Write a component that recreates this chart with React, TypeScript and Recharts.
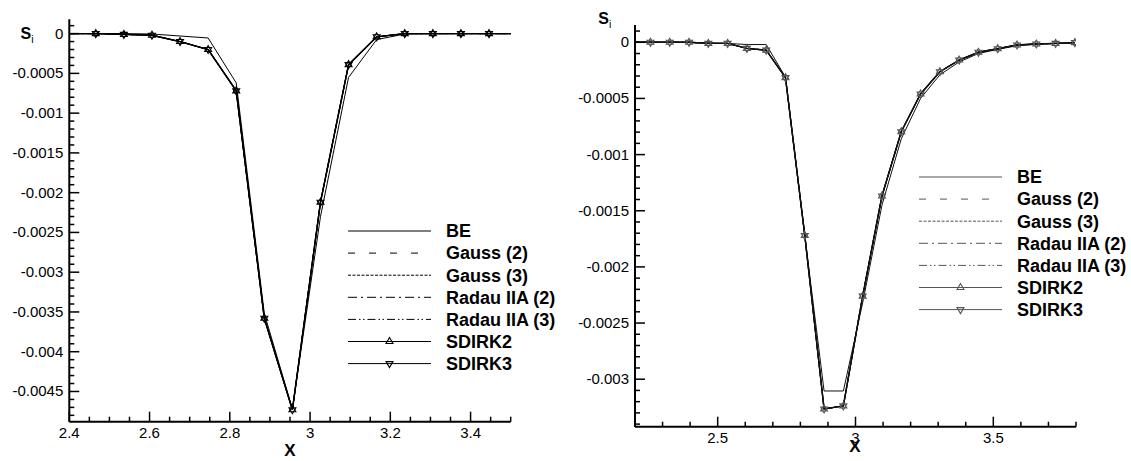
import React from "react";
import { LineChart, Line, XAxis, YAxis, Legend } from "recharts";

const FONT = '"Liberation Sans", Arial, Helvetica, sans-serif';

// ---- left panel ----
const leftX = [2.396, 2.466, 2.536, 2.606, 2.676, 2.746, 2.816, 2.886, 2.956, 3.026, 3.096, 3.166, 3.236, 3.306, 3.376, 3.446, 3.516];
const leftBE = [0, 0, 0, -0.000005, -0.00003, -0.000055, -0.00062, -0.00352, -0.00472, -0.0023, -0.00055, -0.000075, -0.000005, 0, 0, 0, 0];
// Gauss, Radau IIA and SDIRK curves lie on top of each other
const leftHigh = [0, 0, -0.00001, -0.00002, -0.0001, -0.0002, -0.00072, -0.00358, -0.00473, -0.00212, -0.00039, -0.00004, 0, 0, 0, 0, 0];

// ---- right panel ----
const rightX = [2.186, 2.256, 2.326, 2.396, 2.466, 2.536, 2.606, 2.676, 2.746, 2.816, 2.886, 2.956, 3.026, 3.096, 3.166, 3.236, 3.306, 3.376, 3.446, 3.516, 3.586, 3.656, 3.726, 3.796];
const rightBE = [0, 0, 0, 0, -0.000005, -0.00001, -0.00002, -0.00002, -0.00031, -0.00172, -0.003105, -0.003105, -0.00232, -0.00145, -0.00086, -0.0005, -0.00029, -0.000175, -0.0001, -0.000063, -0.00003, -0.000018, -0.00001, -0.000004];
const rightHigh = [0, 0, 0, 0, -0.00001, -0.00001, -0.000054, -0.00007, -0.000315, -0.00172, -0.003265, -0.003238, -0.00226, -0.001369, -0.000796, -0.00046, -0.000262, -0.000158, -0.000089, -0.000057, -0.000024, -0.000015, -0.00001, -0.000003];

// ---- axes ----
const leftXMajor = [2.4, 2.6, 2.8, 3, 3.2, 3.4];
const leftYMajor = [0, -0.0005, -0.001, -0.0015, -0.002, -0.0025, -0.003, -0.0035, -0.004, -0.0045];
const rightXMajor = [2.5, 3, 3.5];
const rightYMajor = [0, -0.0005, -0.001, -0.0015, -0.002, -0.0025, -0.003];

const steps = (a: number, b: number, s: number) =>
  Array.from({ length: Math.round((b - a) / s) + 1 }, (_, i) => +(a + i * s).toFixed(6));

const series = [
  { key: "be", name: "BE", dash: undefined as string | undefined, width: 1, marker: "" },
  { key: "g2", name: "Gauss (2)", dash: "7 14", width: 1, marker: "" },
  { key: "g3", name: "Gauss (3)", dash: "3 1.5", width: 1, marker: "" },
  { key: "r2", name: "Radau IIA (2)", dash: "9 4 2 4", width: 1, marker: "" },
  { key: "r3", name: "Radau IIA (3)", dash: "8 3 1.5 2.5 1.5 3", width: 1, marker: "" },
  { key: "s2", name: "SDIRK2", dash: undefined, width: 1.4, marker: "up" },
  { key: "s3", name: "SDIRK3", dash: undefined, width: 1.4, marker: "down" },
];

const buildRows = (xs: number[], be: number[], high: number[]) =>
  xs.map((x, i) => ({ x, be: be[i], g2: high[i], g3: high[i], r2: high[i], r3: high[i], s2: high[i], s3: high[i] }));

const near = (list: number[], v: number) => list.some((m) => Math.abs(m - v) < 1e-9);
const fmt = (v: number) => String(Number(v.toFixed(4)));

const Tri = ({ cx, cy, dir, color }: any) => {
  const s = 4;
  const h = s * 0.87;
  const pts =
    dir === "up"
      ? `${cx},${cy - s} ${cx - h},${cy + s / 2} ${cx + h},${cy + s / 2}`
      : `${cx},${cy + s} ${cx - h},${cy - s / 2} ${cx + h},${cy - s / 2}`;
  return <polygon points={pts} fill="none" stroke={color} strokeWidth={1.1} />;
};

function Panel(props: any) {
  const { rows, xDomain, yDomain, xMajor, yMajor, xMinor, yMinor, width, margin, lineColor, markColor, legendLeft, legendTop, yLabel, xLabel } = props;

  const YTick = (p: any) => {
    const { x, y, payload } = p;
    const major = near(yMajor, payload.value);
    const ax = x + 6;
    return (
      <g>
        <line x1={ax} x2={ax + (major ? 10 : 5)} y1={y} y2={y} stroke="#000" strokeWidth={1.5} />
        {major && (
          <text x={x} y={y + 5} textAnchor="end" fontSize={15} fontFamily={FONT} fill="#000">
            {fmt(payload.value)}
          </text>
        )}
      </g>
    );
  };

  const XTick = (p: any) => {
    const { x, y, payload } = p;
    const major = near(xMajor, payload.value);
    const ay = y - 5;
    return (
      <g>
        <line x1={x} x2={x} y1={ay} y2={ay - (major ? 10 : 5)} stroke="#000" strokeWidth={1.5} />
        {major && (
          <text x={x} y={ay + 16.6} textAnchor="middle" fontSize={15} fontFamily={FONT} fill="#000">
            {String(Number(payload.value.toFixed(2)))}
          </text>
        )}
      </g>
    );
  };

  const renderLegend = (lp: any) => {
    const items = (lp.payload || []) as any[];
    return (
      <svg width={230} height={160} style={{ display: "block" }}>
        {items.map((it, i) => {
          const cfg = series.find((s) => s.key === it.dataKey) || series[i];
          const yy = 11 + i * 22.1;
          return (
            <g key={cfg.key}>
              <line x1={0} x2={83} y1={yy} y2={yy} stroke={markColor} strokeWidth={1} strokeDasharray={cfg.dash} />
              {cfg.marker && <Tri cx={41.5} cy={yy} dir={cfg.marker} color={markColor} />}
              <text x={98} y={yy + 6.3} fontSize={18} fontWeight="bold" fontFamily={FONT} fill="#000">
                {cfg.name}
              </text>
            </g>
          );
        })}
      </svg>
    );
  };

  return (
    <LineChart width={width} height={461} data={rows} margin={margin}>
      <XAxis
        dataKey="x"
        type="number"
        domain={xDomain}
        allowDataOverflow
        ticks={xMinor}
        interval={0}
        height={30}
        tickSize={0}
        tickMargin={5}
        tickLine={false}
        axisLine={{ stroke: "#000", strokeWidth: 2 }}
        tick={XTick}
        label={{
          content: () => (
            <text x={xLabel[0]} y={xLabel[1]} textAnchor="middle" fontSize={17} fontWeight="bold" fontFamily={FONT} fill="#000">
              X
            </text>
          ),
        }}
      />
      <YAxis
        type="number"
        domain={yDomain}
        allowDataOverflow
        ticks={yMinor}
        interval={0}
        width={60}
        tickSize={0}
        tickMargin={6}
        tickLine={false}
        axisLine={{ stroke: "#000", strokeWidth: 2 }}
        tick={YTick}
        label={{
          content: () => (
            <g>
              <text x={yLabel[0]} y={yLabel[1]} fontSize={16} fontWeight="bold" fontFamily={FONT} fill="#000">
                S
              </text>
              <text x={yLabel[0] + 10.8} y={yLabel[1] + 4.5} fontSize={10.5} fontFamily={FONT} fill="#000">
                i
              </text>
            </g>
          ),
        }}
      />
      <Legend
        layout="vertical"
        align="center"
        verticalAlign="middle"
        content={renderLegend}
        wrapperStyle={{ left: legendLeft, top: legendTop, width: 230, height: 160 }}
      />
      {series.map((s) => (
        <Line
          key={s.key}
          dataKey={s.key}
          name={s.name}
          type="linear"
          stroke={lineColor}
          strokeWidth={s.width}
          strokeDasharray={s.dash}
          isAnimationActive={false}
          dot={
            s.marker
              ? (dp: any) => {
                  const inside = dp.payload.x >= xDomain[0] && dp.payload.x <= xDomain[1];
                  return inside ? (
                    <Tri key={`${s.key}-${dp.index}`} cx={dp.cx} cy={dp.cy} dir={s.marker} color={markColor} />
                  ) : (
                    <g key={`${s.key}-${dp.index}`} />
                  );
                }
              : false
          }
          activeDot={false}
        />
      ))}
    </LineChart>
  );
}

export default function App() {
  const leftRows = buildRows(leftX, leftBE, leftHigh);
  const rightRows = buildRows(rightX, rightBE, rightHigh);
  return (
    <div style={{ position: "absolute", left: 0, top: 0, width: 1131, height: 461, background: "#fff", overflow: "hidden" }}>
      <div style={{ position: "absolute", left: 0, top: 0 }}>
        <Panel
          rows={leftRows}
          width={560}
          margin={{ top: 19.3, right: 49.3, bottom: 9.3, left: 9.3 }}
          xDomain={[2.4, 3.5]}
          yDomain={[-0.00488, 0.00018]}
          xMajor={leftXMajor}
          yMajor={leftYMajor}
          xMinor={steps(2.4, 3.5, 0.05)}
          yMinor={steps(-0.0048, 0.0001, 0.0001)}
          lineColor="#000"
          markColor="#000"
          legendLeft={348}
          legendTop={220}
          yLabel={[20.5, 38.5]}
          xLabel={[290, 455.5]}
        />
      </div>
      <div style={{ position: "absolute", left: 560, top: 0 }}>
        <Panel
          rows={rightRows}
          width={571}
          margin={{ top: 25, right: 55, bottom: 4.3, left: 15 }}
          xDomain={[2.2, 3.8]}
          yDomain={[-0.003423, 0.000154]}
          xMajor={rightXMajor}
          yMajor={rightYMajor}
          xMinor={steps(2.2, 3.8, 0.1)}
          yMinor={steps(-0.0034, 0.0001, 0.0001)}
          lineColor="#111"
          markColor="#555"
          legendLeft={359}
          legendTop={166}
          yLabel={[38.3, 23.5]}
          xLabel={[295, 451.7]}
        />
      </div>
    </div>
  );
}
